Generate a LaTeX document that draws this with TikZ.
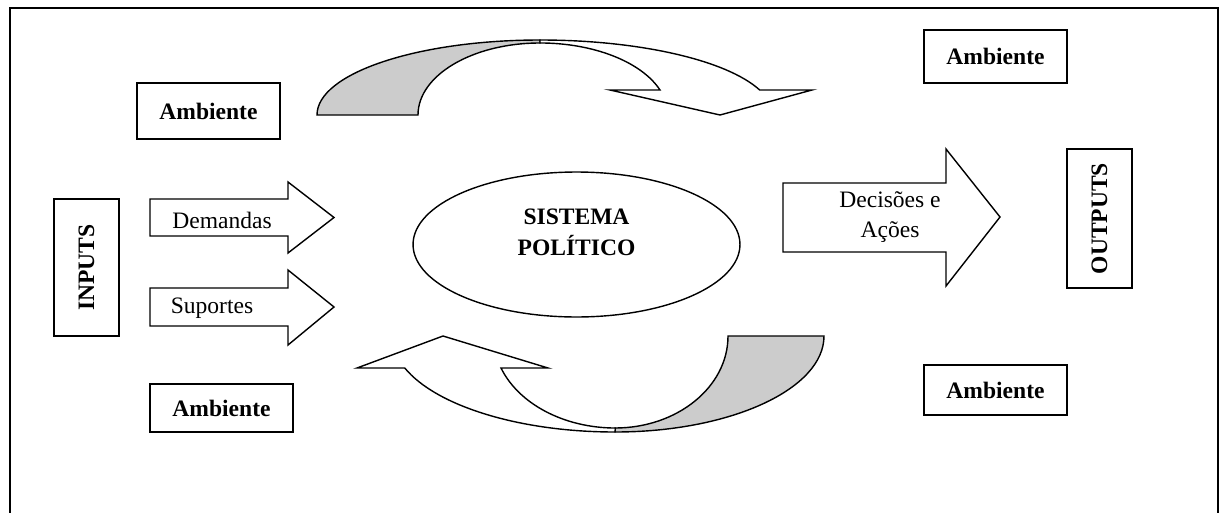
\documentclass[tikz,border=0pt]{standalone}
\usepackage{fontspec}
\setmainfont{Liberation Serif}
\usetikzlibrary{shapes.geometric}
\definecolor{shadegray}{HTML}{CCCCCC}

\begin{document}
\begin{tikzpicture}[x=0.02cm, y=0.02cm,
  amb/.style={rectangle, draw, line width=0.8pt, minimum width=2.86cm, inner sep=0pt, font=\fontsize{13.4}{16}\selectfont\bfseries},
  io/.style={rectangle, draw, line width=0.8pt, minimum height=1.3cm, inner sep=0pt, rotate=90, font=\fontsize{13.4}{16}\selectfont\bfseries},
  seta/.style={draw, line width=0.8pt, fill=white, line join=miter},
  lbl/.style={align=center, inner sep=0pt, font=\fontsize{13.4}{16}\selectfont}
]
\useasboundingbox (0,0) rectangle (1219,512);
% frame
\draw[line width=1.1pt] (10,-5) -- (10,504) -- (1218,504) -- (1218,-5);

% boxes
\node[amb, minimum height=1.12cm] (ambTL) at (208.5,401) {Ambiente};
\node[amb, minimum height=1.06cm] (ambTR) at (995.5,455.5) {Ambiente};
\node[amb, minimum height=0.96cm] (ambBL) at (221.5,104) {Ambiente};
\node[amb, minimum height=1.0cm] (ambBR) at (995.5,122) {Ambiente};
\node[io, minimum width=2.74cm] (inp) at (86.5,244.5) {INPUTS};
\node[io, minimum width=2.78cm] (outp) at (1099.5,293.5) {OUTPUTS};

% central system
\node[ellipse, draw, line width=0.8pt, minimum width=6.54cm, minimum height=2.9cm] (sis) at (576.5,267.5) {};
\node[lbl, font=\fontsize{13.4}{17.5}\selectfont\bfseries] (sistxt) at (576.5,280) {SISTEMA\\POLÍTICO};

% straight arrows
\draw[seta] (150,313) -- (288,313) -- (288,330) -- (334,294.5) -- (288,259) -- (288,276) -- (150,276) -- cycle;
\draw[seta] (150,224) -- (288,224) -- (288,242) -- (334,205) -- (288,167) -- (288,186) -- (150,186) -- cycle;
\draw[seta] (783,329) -- (946,329) -- (946,363) -- (1000,295) -- (946,226) -- (946,260) -- (783,260) -- cycle;
\node[lbl] (dem) at (222,292) {Demandas};
\node[lbl] (sup) at (212,204) {Suportes};
\node[lbl, font=\fontsize{13.4}{17}\selectfont] (dec) at (890,295) {Decisões e\\Ações};

% top curved arrow
\draw[seta, fill=shadegray] (317,397) arc[start angle=180, end angle=90, x radius=223, y radius=75]
  -- (540,469) arc[start angle=90, end angle=180, x radius=122, y radius=72] -- cycle;
\draw[seta] (540,472) arc[start angle=90, end angle=19.47, x radius=233, y radius=75]
  -- (812,422) -- (720,397) -- (610,422) -- (660,422)
  arc[start angle=20.3, end angle=90, x radius=128, y radius=72] -- cycle;

% bottom curved arrow
\draw[seta, fill=shadegray] (824,176) arc[start angle=0, end angle=-90, x radius=209, y radius=96]
  -- (615,84) arc[start angle=-90, end angle=0, x radius=113, y radius=92] -- cycle;
\draw[seta] (615,80) arc[start angle=270, end angle=199.47, x radius=223, y radius=96]
  -- (357,144) -- (443,176) -- (548,144) -- (501,144)
  arc[start angle=200.35, end angle=270, x radius=122, y radius=92] -- cycle;
\end{tikzpicture}
\end{document}
